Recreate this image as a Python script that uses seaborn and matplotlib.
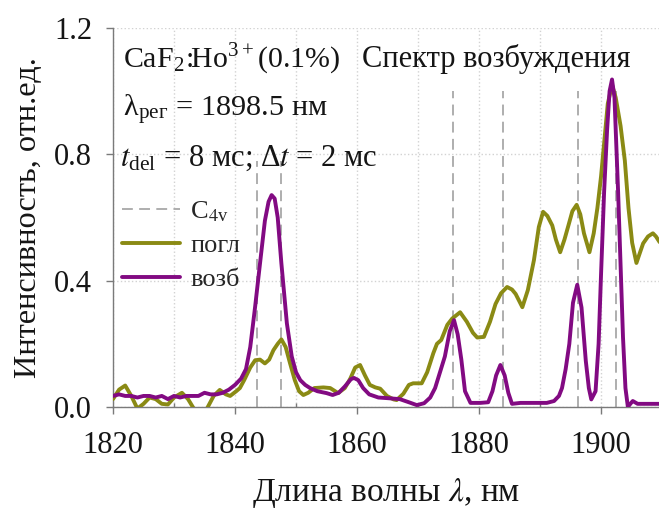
import matplotlib
matplotlib.use("Agg")
import matplotlib.pyplot as plt
import seaborn as sns
import pandas as pd
from matplotlib.ticker import MultipleLocator

# ---------------- data ----------------
vozb_x = [1820, 1821, 1822, 1823, 1824, 1825, 1826, 1827, 1828, 1829, 1830, 1831, 1832, 1833,
          1834, 1835, 1836, 1837, 1838, 1839, 1840, 1841, 1841.8, 1842.5, 1843.3, 1844.1, 1844.9,
          1845.5, 1846.0, 1846.5, 1847.0, 1847.6, 1848.5, 1849.3, 1850.0, 1850.7, 1851.5, 1852.3,
          1853.5, 1855, 1856, 1857, 1858, 1859, 1859.5, 1860.2, 1861, 1862, 1863.5, 1865, 1867,
          1868.5, 1869.8, 1871, 1872, 1872.8, 1873.6, 1874.4, 1875.2, 1875.9, 1876.5, 1877.1,
          1877.7, 1878.6, 1880.2, 1881.5, 1882.2, 1882.8, 1883.5, 1884.2, 1884.8, 1885.4, 1886.8,
          1889, 1891.1, 1892.3, 1893.1, 1893.6, 1894.2, 1894.8, 1895.4, 1896.1, 1896.8, 1897.5,
          1898.0, 1898.4, 1899.1, 1899.6, 1900.0, 1900.5, 1901.0, 1901.4, 1901.8, 1902.2, 1902.8,
          1903.2, 1903.6, 1904.0, 1904.4, 1904.8, 1905.2, 1906, 1908, 1909.6]
vozb_y = [0.035, 0.04, 0.035, 0.035, 0.03, 0.035, 0.035, 0.03, 0.035, 0.025, 0.035, 0.03, 0.035,
          0.035, 0.035, 0.045, 0.04, 0.04, 0.045, 0.055, 0.07, 0.09, 0.12, 0.19, 0.318, 0.455,
          0.59, 0.65, 0.671, 0.66, 0.6, 0.455, 0.265, 0.16, 0.11, 0.085, 0.07, 0.06, 0.05, 0.044,
          0.038, 0.045, 0.065, 0.088, 0.092, 0.085, 0.06, 0.04, 0.03, 0.028, 0.025, 0.015, 0.006,
          0.012, 0.03, 0.06, 0.11, 0.16, 0.24, 0.275, 0.23, 0.15, 0.05, 0.013, 0.013, 0.015, 0.05,
          0.1, 0.133, 0.1, 0.045, 0.01, 0.013, 0.013, 0.013, 0.019, 0.035, 0.06, 0.12, 0.2, 0.33,
          0.387, 0.315, 0.146, 0.06, 0.024, 0.05, 0.2, 0.42, 0.68, 0.88, 1.0, 1.037, 0.98, 0.68,
          0.45, 0.22, 0.06, 0.0, 0.01, 0.019, 0.01, 0.01, 0.01]

pogl_x = [1820, 1821, 1822, 1823, 1824, 1825, 1826, 1827, 1828, 1829, 1830, 1831.3, 1832.3,
          1833.4, 1834.5, 1835.4, 1836.5, 1837.5, 1838.5, 1839.2, 1840.2, 1840.8, 1841.5, 1842.5,
          1843.3, 1844.1, 1844.9, 1845.6, 1846.3, 1847.0, 1847.6, 1848.3, 1849, 1849.8, 1850.5,
          1851.2, 1852, 1853, 1854.5, 1855.6, 1856.9, 1858, 1858.9, 1859.7, 1860.5, 1861.3,
          1862.1, 1863, 1863.8, 1864.9, 1866, 1866.5, 1867.6, 1868.5, 1869.2, 1870.6, 1871.5,
          1872.5, 1873.1, 1873.8, 1874.8, 1875.6, 1876.9, 1878, 1879, 1879.7, 1880.8, 1881.8,
          1882.7, 1883.6, 1884.6, 1885.4, 1886, 1887.1, 1888, 1889, 1889.8, 1890.5, 1891.2, 1892,
          1892.6, 1893.3, 1894, 1894.7, 1895.3, 1896, 1896.6, 1897.2, 1898.1, 1898.8, 1899.4,
          1900, 1900.5, 1901.1, 1901.8, 1902.4, 1903.2, 1903.9, 1904.5, 1905.1, 1905.8, 1906.4,
          1906.9, 1907.7, 1908.5, 1909.0, 1909.6]
pogl_y = [0.025, 0.055, 0.068, 0.035, -0.005, 0.01, 0.03, 0.025, 0.01, 0.008, 0.03, 0.045,
          0.025, -0.01, -0.015, -0.005, 0.035, 0.054, 0.04, 0.035, 0.05, 0.06, 0.085, 0.125,
          0.148, 0.15, 0.138, 0.15, 0.18, 0.2, 0.214, 0.19, 0.14, 0.085, 0.05, 0.038, 0.045, 0.06,
          0.062, 0.06, 0.044, 0.06, 0.09, 0.125, 0.133, 0.1, 0.07, 0.062, 0.058, 0.035, 0.024,
          0.022, 0.042, 0.07, 0.075, 0.075, 0.11, 0.17, 0.2, 0.212, 0.26, 0.28, 0.3, 0.27, 0.235,
          0.22, 0.222, 0.27, 0.326, 0.36, 0.38, 0.372, 0.358, 0.316, 0.37, 0.465, 0.57, 0.618,
          0.605, 0.575, 0.53, 0.49, 0.53, 0.578, 0.62, 0.64, 0.61, 0.55, 0.49, 0.55, 0.63, 0.73,
          0.834, 0.96, 1.02, 0.98, 0.89, 0.78, 0.63, 0.52, 0.456, 0.49, 0.518, 0.54, 0.55, 0.54,
          0.522]

c4v_x = [1843.6, 1847.5, 1875.7, 1883.9, 1896.2, 1902.5]
c4v_top = [0.78, 0.78, 1.0, 1.0, 1.0, 1.0]

x_ticks = [1820, 1840, 1860, 1880, 1900]
y_ticks = [0.0, 0.4, 0.8, 1.2]

# ---------------- style ----------------
sns.set_theme(style="white")
FAM = 'Liberation Serif'
plt.rcParams['font.family'] = 'serif'
plt.rcParams['font.serif'] = [FAM, 'DejaVu Serif']
plt.rcParams['mathtext.fontset'] = 'stix'

OLIVE = '#8a8a14'
PURPLE = '#820a82'
GRAY = '#a8a8a8'
TXT = '#151515'

fig = plt.figure(figsize=(6.59, 5.11), dpi=100)
ax = fig.add_axes([113/659, 104/511, 546/659, 379/511])

df_p = pd.DataFrame({'x': pogl_x, 'y': pogl_y})
df_v = pd.DataFrame({'x': vozb_x, 'y': vozb_y})

for i, (xv, yt) in enumerate(zip(c4v_x, c4v_top)):
    ax.plot([xv, xv], [0, yt], color=GRAY, lw=1.3, ls=(0, (6, 3.5)),
            label='C$_{4\\mathregular{v}}$' if i == 0 else None, zorder=2)

sns.lineplot(data=df_p, x='x', y='y', ax=ax, color=OLIVE, lw=2.8, sort=False,
             estimator=None, label='погл', zorder=3)
sns.lineplot(data=df_v, x='x', y='y', ax=ax, color=PURPLE, lw=2.8, sort=False,
             estimator=None, label='возб', zorder=4)

ax.set_xlim(1820, 1909.5)
ax.set_ylim(0, 1.2)
ax.set_xticks(x_ticks)
ax.set_xticklabels([str(t) for t in x_ticks], family=FAM)
ax.set_yticks(y_ticks)
ax.set_yticklabels([f'{t:.1f}' for t in y_ticks], family=FAM)
ax.xaxis.set_minor_locator(MultipleLocator(10))

ax.grid(True, which='both', axis='x', color='#d2d2d2', ls=':', lw=1.0)
ax.grid(True, which='major', axis='y', color='#d2d2d2', ls=':', lw=1.0)
ax.set_axisbelow(True)

for s in ['top', 'right']:
    ax.spines[s].set_visible(False)
for s in ['left', 'bottom']:
    ax.spines[s].set_color('#7a7a7a')
    ax.spines[s].set_linewidth(1.0)

ax.tick_params(axis='both', which='major', direction='out', length=5, width=1,
               color='#7a7a7a', labelsize=22, labelcolor=TXT)
ax.tick_params(axis='x', which='major', pad=12)
ax.tick_params(axis='y', which='major', pad=10)
ax.tick_params(axis='x', which='minor', direction='in', length=3, width=1,
               color='#7a7a7a', bottom=True)
ax.tick_params(axis='both', which='major', left=True, bottom=True)

ax.set_xlabel('Длина волны $\\lambda$, нм', fontsize=24, labelpad=12, color=TXT, family=FAM)
ax.set_ylabel('Интенсивность, отн.ед.', fontsize=23.3, labelpad=8, color=TXT, family=FAM)

ax.text(1821.6, 1.077, 'CaF$_\\mathregular{2}$:Ho$^\\mathregular{3+}$(0.1%)', fontsize=21.5,
        color=TXT, va='baseline', family=FAM)
ax.text(1860.8, 1.077, 'Спектр возбуждения', fontsize=22, color=TXT, va='baseline', family=FAM)
ax.text(1821.6, 0.921, 'λ$_\\mathregular{рег}$ = 1898.5 нм', fontsize=21.8, color=TXT,
        va='baseline', family=FAM)
ax.text(1821.2, 0.763, '$t_\\mathregular{del}$ = 8 мс; Δ$t$ = 2 мс', fontsize=22, color=TXT,
        va='baseline', family=FAM)

leg = ax.legend(loc='upper left', bbox_to_anchor=(-0.013, 0.59), frameon=False,
                prop={'family': FAM, 'size': 19},
                handlelength=2.2, handletextpad=0.4, labelspacing=0.38, borderaxespad=0.2)

fig.savefig('out.png', dpi=100)
